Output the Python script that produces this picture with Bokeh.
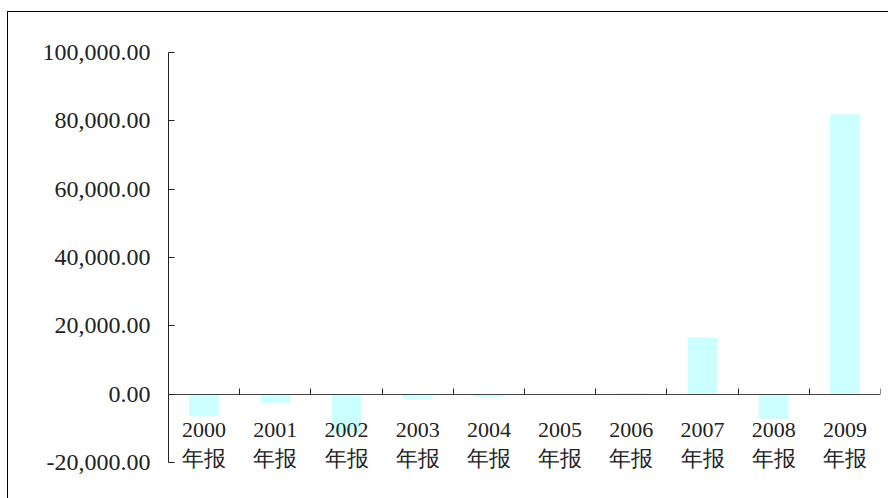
from bokeh.plotting import figure
from bokeh.models import LinearAxis, FixedTicker, NumeralTickFormatter, Range1d, LabelSet, ColumnDataSource
from bokeh.embed import file_html
from bokeh.resources import INLINE

years = ["2000", "2001", "2002", "2003", "2004", "2005", "2006", "2007", "2008", "2009"]
suffix = "年报"
values = [-6500, -2600, -11300, -1400, -820, 0, 350, 16600, -7200, 81900]
y_ticks = [-20000, 0, 20000, 40000, 60000, 80000, 100000]

n = len(years)
centers = [i + 0.5 for i in range(n)]
bounds = list(range(n + 1))

FONT = "Liberation Serif"

# the plotting frame runs 36px below the last y tick so the category labels are not clipped
axis_px = 410
extra_px = 36
y_start = y_ticks[0] - (y_ticks[-1] - y_ticks[0]) * extra_px / axis_px

p = figure(width=880, height=486, output_backend="svg", toolbar_location=None,
           x_range=Range1d(0, n), y_range=Range1d(y_start, y_ticks[-1]),
           x_axis_location=None, min_border_left=160, min_border_top=40,
           min_border_right=8, min_border_bottom=0)
p.margin = (12, 0, 0, 8)
p.styles = {"outline": "1px solid black"}
p.outline_line_color = None
p.xgrid.visible = False
p.ygrid.visible = False
p.background_fill_color = "white"
p.border_fill_color = "white"

p.vbar(x=centers, top=values, bottom=0, width=0.42, fill_color="#CCFFFF", line_color=None)

# y axis
ya = p.yaxis[0]
ya.ticker = FixedTicker(ticks=y_ticks)
ya.bounds = (y_ticks[0], y_ticks[-1])
ya.formatter = NumeralTickFormatter(format="0,0.00")
ya.major_tick_in = 6
ya.major_tick_out = 0
ya.minor_tick_line_color = None
ya.axis_line_color = "#222222"
ya.major_tick_line_color = "#222222"
ya.major_label_text_font = FONT
ya.major_label_text_font_size = "24px"
ya.major_label_text_color = "#222222"
ya.major_label_standoff = 18

# x axis with boundary ticks at y = 0
xa = LinearAxis(fixed_location=0, ticker=FixedTicker(ticks=bounds),
                major_tick_in=6, major_tick_out=0, minor_tick_line_color=None,
                axis_line_color="#444444", major_tick_line_color="#222222",
                major_label_overrides={b: "" for b in bounds})
p.add_layout(xa, "below")

# category labels
src = ColumnDataSource(dict(x=centers, y=[0] * n, text=[f"{y}\n{suffix}" for y in years]))
labels = LabelSet(x="x", y="y", text="text", source=src, y_offset=-23,
                  text_align="center", text_baseline="top",
                  text_font=FONT, text_font_size="22px", text_color="#222222",
                  text_line_height=1.15)
p.add_layout(labels)

open("out.html", "w").write(file_html(p, INLINE))
